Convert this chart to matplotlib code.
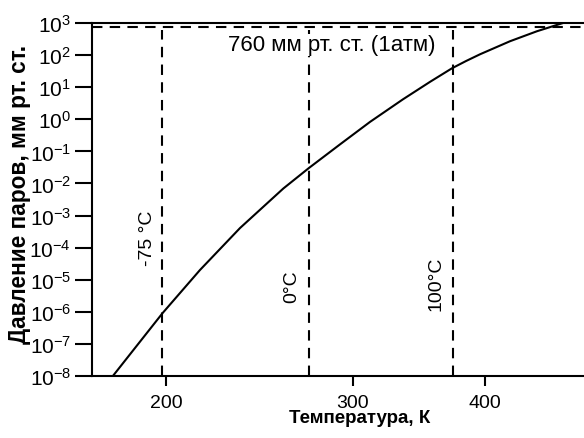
import math
import matplotlib
matplotlib.use("Agg")
import matplotlib.pyplot as plt
from matplotlib.ticker import FixedLocator, FuncFormatter, NullLocator

# Data
temperature_K = [178.2, 198.5, 215.3, 234.9, 258.1, 272.9, 291.9, 311.6, 334.7,
                 355.0, 372.3, 383.8, 395.7, 422.3, 447.9, 473.9]
pressure_mmHg = [1.0e-8, 9.08e-7, 2.0e-5, 4.08e-4, 6.98e-3, 3.05e-2, 0.165, 0.83, 4.19,
                 14.7, 38.8, 65.2, 106, 270, 555, 1000]

ref_temps_K = [198.15, 273.15, 373.15]
ref_labels = ["-75 °C", "0°C", "100°C"]
atm_pressure = 760
atm_label = "760 мм рт. ст. (1атм)"

x_ticks = [200, 300, 400]
y_exponents = list(range(-8, 4))

plt.rcParams['font.family'] = ['Liberation Sans', 'DejaVu Sans']
plt.rcParams['mathtext.fontset'] = 'custom'
plt.rcParams['mathtext.rm'] = 'Liberation Sans'
plt.rcParams['mathtext.it'] = 'Liberation Sans'
plt.rcParams['mathtext.default'] = 'regular'

W, H = 584, 439
fig = plt.figure(figsize=(W / 100, H / 100), dpi=100)
left_px, right_px, top_px, bot_px = 92, 616, 24, 377
ax = fig.add_axes([left_px / W, 1 - bot_px / H, (right_px - left_px) / W, (bot_px - top_px) / H])

ax.set_xscale('log')
ax.set_yscale('log')
ax.set_xlim(170.3, 531.7)
ax.set_ylim(1e-8, 1e3)

lw = 1.5
ax.plot(temperature_K, pressure_mmHg, color='black', lw=lw, solid_joinstyle='round')

dash = (0, (5, 3.5))
for t in ref_temps_K:
    ax.plot([t, t], [1e-8, atm_pressure * 0.8], color='black', lw=lw, linestyle=dash)
ax.axhline(atm_pressure, color='black', lw=lw, linestyle=dash)

# labels
fig.text(228 / W, 1 - 46 / H, atm_label, fontsize=16, ha='left', va='center', zorder=5,
         bbox=dict(facecolor='white', edgecolor='none', pad=0.5))
label_pos = [(148, 238), (292, 287), (436, 284)]
for (px, py), lab in zip(label_pos, ref_labels):
    fig.text(px / W, 1 - py / H, lab, rotation=90, fontsize=14, ha='center', va='center')

for s in ['left', 'bottom', 'top']:
    ax.spines[s].set_linewidth(lw)
ax.spines['right'].set_visible(False)

ax.xaxis.set_major_locator(FixedLocator(x_ticks))
ax.xaxis.set_minor_locator(NullLocator())
ax.xaxis.set_major_formatter(FuncFormatter(lambda v, p: f"{int(round(v))}"))
ax.yaxis.set_major_locator(FixedLocator([10.0 ** e for e in y_exponents]))
ax.yaxis.set_minor_locator(NullLocator())
ax.yaxis.set_major_formatter(FuncFormatter(
    lambda v, p: r"$\mathregular{10^{%d}}$" % int(round(math.log10(v)))))

ax.tick_params(axis='y', direction='out', length=12, width=lw, labelsize=15, pad=3)
ax.tick_params(axis='x', direction='out', length=7, width=lw, labelsize=14, pad=6)

fig.text(360 / W, 1 - 419 / H, "Температура, К", fontsize=13.5, fontweight='bold',
         ha='center', va='center')
fig.text(20 / W, 1 - 194 / H, "Давление паров, мм рт. ст.", fontsize=16.3, fontweight='bold',
         rotation=90, ha='center', va='center')

fig.savefig("out.png", dpi=100)
